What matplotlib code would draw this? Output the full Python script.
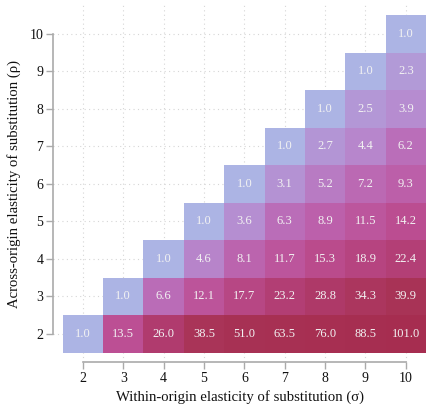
import numpy as np
import matplotlib
matplotlib.use("Agg")
import matplotlib.pyplot as plt
from matplotlib.colors import LinearSegmentedColormap, LogNorm

plt.rcParams['font.family'] = ['Liberation Serif', 'DejaVu Serif']

# within-origin elasticity (sigma) on x, across-origin elasticity (rho) on y
sigma = [2, 3, 4, 5, 6, 7, 8, 9, 10]
rho = [2, 3, 4, 5, 6, 7, 8, 9, 10]

# one list per rho row, values for sigma = rho .. 10
row_2 = [1.0, 13.5, 26.0, 38.5, 51.0, 63.5, 76.0, 88.5, 101.0]
row_3 = [1.0, 6.6, 12.1, 17.7, 23.2, 28.8, 34.3, 39.9]
row_4 = [1.0, 4.6, 8.1, 11.7, 15.3, 18.9, 22.4]
row_5 = [1.0, 3.6, 6.3, 8.9, 11.5, 14.2]
row_6 = [1.0, 3.1, 5.2, 7.2, 9.3]
row_7 = [1.0, 2.7, 4.4, 6.2]
row_8 = [1.0, 2.5, 3.9]
row_9 = [1.0, 2.3]
row_10 = [1.0]
rows = [row_2, row_3, row_4, row_5, row_6, row_7, row_8, row_9, row_10]

grid = np.full((len(rho), len(sigma)), np.nan)
for i, vals in enumerate(rows):
    grid[i, i:] = vals

# colour ramp, positions on a log scale
stops = [1.0, 2.5, 4.2, 6.2, 9.3, 13.5, 26.0, 39.9, 101.0]
cols = ['#acb4e4', '#b397d6', '#b68acf', '#ba6eb9', '#bc5fa9',
        '#bc4f94', '#b03b6e', '#a83356', '#a62d50']
pos = [np.log(s) / np.log(101.0) for s in stops]
cmap = LinearSegmentedColormap.from_list('elast', list(zip(pos, cols)))

fig = plt.figure(figsize=(4.26, 4.04), dpi=100)
ax = fig.add_axes([53 / 426, 42 / 404, 373 / 426, 357 / 404])

ax.grid(True, color='#d6d6d6', linestyle=(0, (1, 3)), linewidth=0.8)
ax.set_axisbelow(True)

edges = np.arange(1.5, 11.0, 1.0)
ax.pcolormesh(edges, edges, np.ma.masked_invalid(grid), cmap=cmap,
              norm=LogNorm(vmin=1.0, vmax=101.0), zorder=2)

for i, vals in enumerate(rows):
    for j, v in enumerate(vals):
        ax.text(sigma[i + j], rho[i], f"{v:.1f}", ha='center', va='center',
                color='#f2f2f2', fontsize=9, zorder=3)

ax.set_xlim(1.26, 10.5)
ax.set_ylim(1.25, 10.77)
ax.set_xticks(sigma)
ax.set_yticks(rho)

for side in ['top', 'right']:
    ax.spines[side].set_visible(False)
ax.spines['left'].set_bounds(2, 10)
ax.spines['bottom'].set_bounds(2, 10)
for side in ['left', 'bottom']:
    ax.spines[side].set_color('#aaaaaa')
    ax.spines[side].set_linewidth(1.2)
ax.tick_params(colors='#aaaaaa', labelcolor='#111111', labelsize=10,
               length=5, width=1.0, pad=2)

ax.set_xlabel("Within-origin elasticity of substitution (σ)", fontsize=10.6,
              color='#111111', labelpad=4)
ax.set_ylabel("Across-origin elasticity of substitution (ρ)", fontsize=10.6,
              color='#111111', labelpad=6)

fig.savefig("out.png", dpi=100)
plt.close(fig)
